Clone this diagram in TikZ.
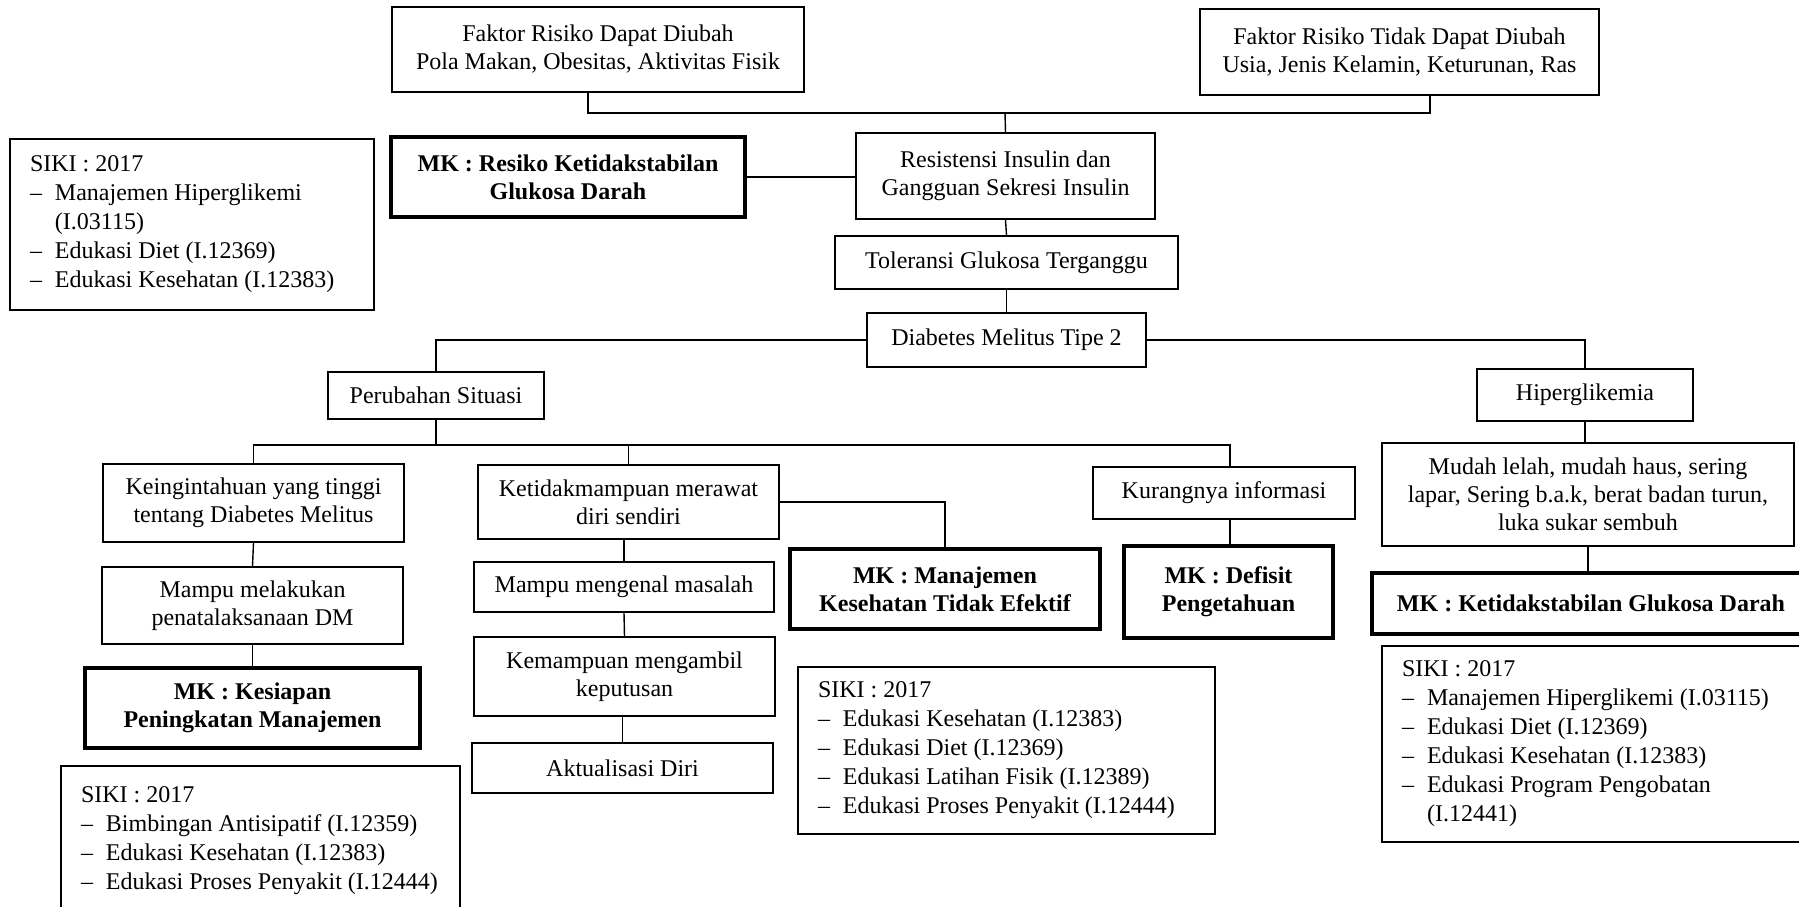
\documentclass[tikz,border=0pt]{standalone}
\usepackage{fontspec}
\setmainfont{Liberation Serif}
\usepackage{tikz}

\newcommand{\itm}[1]{\makebox[12.5pt][l]{--}\mbox{#1}}
\newcommand{\cont}[1]{\hspace*{12.5pt}\mbox{#1}}

\tikzset{
    box/.style={draw, rectangle, line width=0.8pt, align=center, inner sep=2pt,
        font=\fontsize{12}{14}\selectfont},
    mkbox/.style={box, line width=2.2pt, font=\fontsize{12}{14}\selectfont\bfseries},
    sikibox/.style={box, align=flush left, inner xsep=10pt, font=\fontsize{12}{14.5}\selectfont},
    link/.style={line width=0.7pt},
}

\begin{document}
\begin{tikzpicture}[x=0.5pt, y=-0.5pt]

    \useasboundingbox[fill=white] (0,0) rectangle (1799,906);

    % faktor risiko
    \node[box, minimum width=206pt, minimum height=42.5pt] (fdapat) at (598,49.5)
        {Faktor Risiko Dapat Diubah\\Pola Makan, Obesitas, Aktivitas Fisik};
    \node[box, minimum width=199.5pt, minimum height=43pt] (ftidak) at (1399.5,52)
        {Faktor Risiko Tidak Dapat Diubah\\Usia, Jenis Kelamin, Keturunan, Ras};

    % pusat
    \node[box, minimum width=149.5pt, minimum height=43pt] (resist) at (1005.5,176)
        {Resistensi Insulin dan\\Gangguan Sekresi Insulin};
    \node[box, minimum width=171.5pt, minimum height=26.5pt] (toler) at (1006.5,262.5)
        {Toleransi Glukosa Terganggu};
    \node[box, minimum width=139.5pt, minimum height=27pt] (dm) at (1006.5,340)
        {Diabetes Melitus Tipe 2};
    \node[mkbox, minimum width=177pt, minimum height=40pt] (mkresiko) at (568,177)
        {MK : Resiko Ketidakstabilan\\Glukosa Darah};
    \node[sikibox, text width=162pt, minimum height=85.5pt] (siki1) at (192,224.5)
        {SIKI : 2017\\\itm{Manajemen Hiperglikemi}\\\cont{(I.03115)}\\\itm{Edukasi Diet (I.12369)}\\\itm{Edukasi Kesehatan (I.12383)}};

    % cabang kiri
    \node[box, minimum width=108pt, minimum height=23.5pt] (perubahan) at (436,395.5)
        {Perubahan Situasi};
    \node[box, minimum width=150.5pt, minimum height=39pt] (ingin) at (253.5,503)
        {Keingintahuan yang tinggi\\tentang Diabetes Melitus};
    \node[box, minimum width=150.5pt, minimum height=38.5pt] (mampulak) at (252.5,605.5)
        {Mampu melakukan\\penatalaksanaan DM};
    \node[mkbox, minimum width=167.5pt, minimum height=40pt] (kesiapan) at (252.5,708)
        {MK : Kesiapan\\Peningkatan Manajemen};
    \node[sikibox, text width=179.5pt, minimum height=74.5pt] (siki3) at (260.5,840.5)
        {SIKI : 2017\\\itm{Bimbingan Antisipatif (I.12359)}\\\itm{Edukasi Kesehatan (I.12383)}\\\itm{Edukasi Proses Penyakit (I.12444)}};

    \node[box, minimum width=150.5pt, minimum height=37pt] (tidakmampu) at (628.5,502)
        {Ketidakmampuan merawat\\diri sendiri};
    \node[box, minimum width=150pt, minimum height=25pt] (kenal) at (624,587)
        {Mampu mengenal masalah};
    \node[box, minimum width=150.5pt, minimum height=39.5pt] (kemampuan) at (624.5,676.5)
        {Kemampuan mengambil\\keputusan};
    \node[box, minimum width=150.5pt, minimum height=25pt] (aktual) at (622.5,768)
        {Aktualisasi Diri};
    \node[mkbox, minimum width=155pt, minimum height=40pt] (mkmanaj) at (945,589)
        {MK : Manajemen\\Kesehatan Tidak Efektif};
    \node[sikibox, text width=188.5pt, minimum height=83.5pt] (siki2) at (1006.5,750.5)
        {SIKI : 2017\\\itm{Edukasi Kesehatan (I.12383)}\\\itm{Edukasi Diet (I.12369)}\\\itm{Edukasi Latihan Fisik (I.12389)}\\\itm{Edukasi Proses Penyakit (I.12444)}};

    \node[box, minimum width=131pt, minimum height=26pt] (kurang) at (1224,493)
        {Kurangnya informasi};
    \node[mkbox, minimum width=104.5pt, minimum height=46pt] (mkdefisit) at (1228.5,592)
        {MK : Defisit\\Pengetahuan};

    % cabang kanan
    \node[box, minimum width=108pt, minimum height=26pt] (hiper) at (1585,395)
        {Hiperglikemia};
    \node[box, minimum width=206pt, minimum height=51.5pt] (mudah) at (1588,494.5)
        {Mudah lelah, mudah haus, sering\\lapar, Sering b.a.k, berat badan turun,\\luka sukar sembuh};
    \node[mkbox, minimum width=219pt, minimum height=30.5pt] (mkketidak) at (1591,603.5)
        {MK : Ketidakstabilan Glukosa Darah};
    \node[sikibox, text width=196.5pt, minimum height=98pt] (siki4) at (1598.5,744)
        {SIKI : 2017\\\itm{Manajemen Hiperglikemi (I.03115)}\\\itm{Edukasi Diet (I.12369)}\\\itm{Edukasi Kesehatan (I.12383)}\\\itm{Edukasi Program Pengobatan}\\\cont{(I.12441)}};

    % garis
    \coordinate (jtop) at (1005,113);
    \draw[link] ([xshift=-5pt]fdapat.south) |- (jtop) -| ([xshift=15.25pt]ftidak.south);
    \draw[link] (jtop) -- (resist.north);
    \draw[link] (mkresiko.east) -- (mkresiko.east -| resist.west);
    \draw[link] (resist.south) -- (toler.north);
    \draw[link] (toler.south) -- (dm.north);
    \draw[link] (dm.west) -| (perubahan.north);
    \draw[link] (dm.east) -| (hiper.north);

    \draw[link] (perubahan.south) -- ++(0,25) coordinate (jsit);
    \draw[link] (ingin.north) |- (jsit) -| ([xshift=3pt]kurang.north);
    \draw[link] (tidakmampu.north) -- (tidakmampu.north |- jsit);
    \draw[link] (tidakmampu.east) -| (mkmanaj.north);

    \draw[link] (ingin.south) -- (mampulak.north);
    \draw[link] (mampulak.south) -- (kesiapan.north);
    \draw[link] (kenal.north |- tidakmampu.south) -- (kenal.north);
    \draw[link] (kenal.south) -- (kemampuan.north);
    \draw[link] (aktual.north |- kemampuan.south) -- (aktual.north);
    \draw[link] ([xshift=3pt]kurang.south) -- ([xshift=3pt]kurang.south |- mkdefisit.north);

    \draw[link] (hiper.south) -- (hiper.south |- mudah.north);
    \draw[link] (mudah.south) -- (mudah.south |- mkketidak.north);

\end{tikzpicture}
\end{document}
